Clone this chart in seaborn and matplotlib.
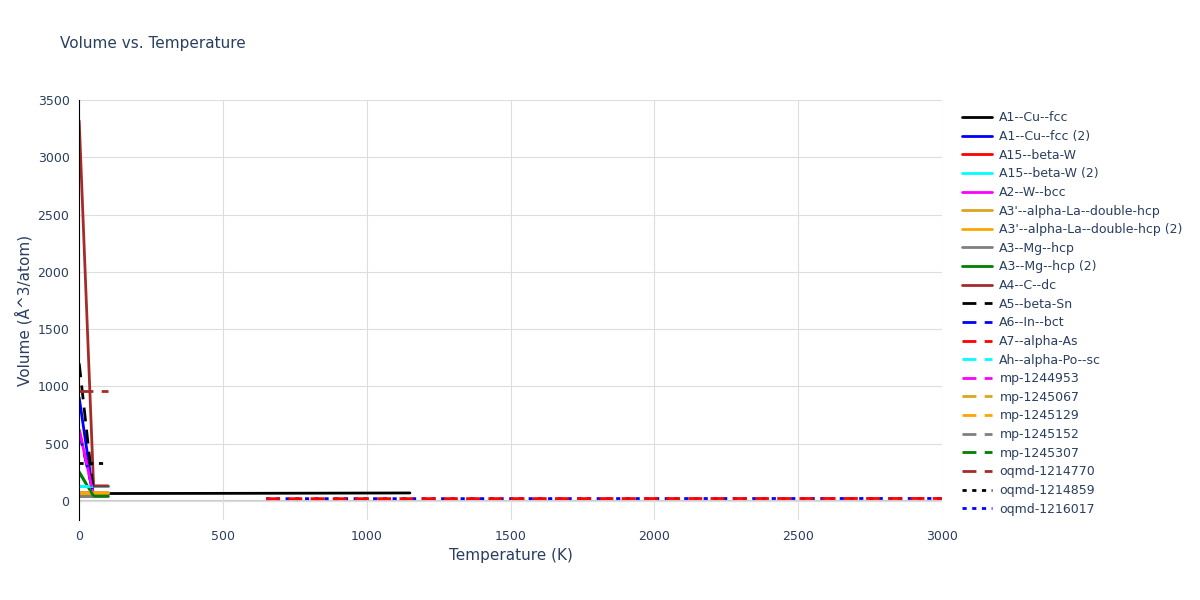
import matplotlib
matplotlib.use("Agg")
import matplotlib.pyplot as plt
import seaborn as sns
import pandas as pd

names = ["A1--Cu--fcc", "A1--Cu--fcc (2)", "A15--beta-W", "A15--beta-W (2)", "A2--W--bcc",
         "A3'--alpha-La--double-hcp", "A3'--alpha-La--double-hcp (2)", "A3--Mg--hcp", "A3--Mg--hcp (2)",
         "A4--C--dc", "A5--beta-Sn", "A6--In--bct", "A7--alpha-As", "Ah--alpha-Po--sc",
         "mp-1244953", "mp-1245067", "mp-1245129", "mp-1245152", "mp-1245307",
         "oqmd-1214770", "oqmd-1214859", "oqmd-1216017"]
colors = ["black", "blue", "red", "cyan", "magenta", "goldenrod", "orange", "grey", "green", "brown",
          "black", "blue", "red", "cyan", "magenta", "goldenrod", "orange", "grey", "green", "brown",
          "black", "blue"]
styles = ["-"] * 10 + [(0, (5, 3))] * 10 + [(0, (1.5, 2))] * 2

temps = [
    [50, 600, 1150], [0, 50, 100], [0, 50, 100], [0, 50, 100], [0, 50],
    [0, 50, 100], [0, 50, 100], [0, 50, 100], [0, 50, 100],
    [0, 50, 100], [0, 50], [0, 50], [650, 1800, 3000], [0, 50],
    [0, 50], [0, 50], [0, 50], [0, 50], [0, 50],
    [0, 100], [0, 100], [650, 1800, 3000],
]
vols = [
    [63, 65, 68], [900, 40, 40], [130, 130, 130], [130, 130, 130], [620, 50],
    [75, 75, 75], [70, 70, 70], [45, 45, 45], [250, 40, 40],
    [3320, 130, 130], [1200, 60], [600, 50], [18, 19, 20], [130, 130],
    [620, 50], [75, 75], [70, 70], [45, 45], [250, 40],
    [960, 960], [330, 330], [18, 19, 20],
]

sns.set_style("whitegrid")
fig, ax = plt.subplots(figsize=(12, 6), dpi=100)
for i, (n, c, s, t, v) in enumerate(zip(names, colors, styles, temps, vols)):
    df = pd.DataFrame({"T": t, "V": v})
    z = 1.5 if n == "oqmd-1216017" else 2.5 if n == "A7--alpha-As" else 2
    sns.lineplot(data=df, x="T", y="V", ax=ax, color=c, linestyle=s, linewidth=2, label=n,
                 sort=False, zorder=z)

ax.set_xlim(0, 3000)
ax.set_ylim(-170, 3500)
ax.set_xticks([0, 500, 1000, 1500, 2000, 2500, 3000])
ax.set_yticks(range(0, 3501, 500))
ax.axhline(0, color="#cccccc", linewidth=1.5, zorder=0)
ax.set_xlabel("Temperature (K)", color="#2a3f5f", fontsize=11)
ax.set_ylabel("Volume (Å^3/atom)", color="#2a3f5f", fontsize=11)
ax.tick_params(colors="#2a3f5f", labelsize=9)
for sp in ["top", "right", "bottom"]:
    ax.spines[sp].set_visible(False)
ax.spines["left"].set_color("black")
ax.grid(color="#dddddd")
fig.text(0.05, 0.92, "Volume vs. Temperature", fontsize=11, color="#2a3f5f")
leg = ax.legend(loc="upper left", bbox_to_anchor=(1.01, 1.0), frameon=False, fontsize=9,
                handlelength=2.4, handletextpad=0.6, labelspacing=0.45)
for t in leg.get_texts():
    t.set_color("#2a3f5f")
plt.subplots_adjust(left=0.066, right=0.785, top=0.833, bottom=0.133)
plt.savefig("out.png")
